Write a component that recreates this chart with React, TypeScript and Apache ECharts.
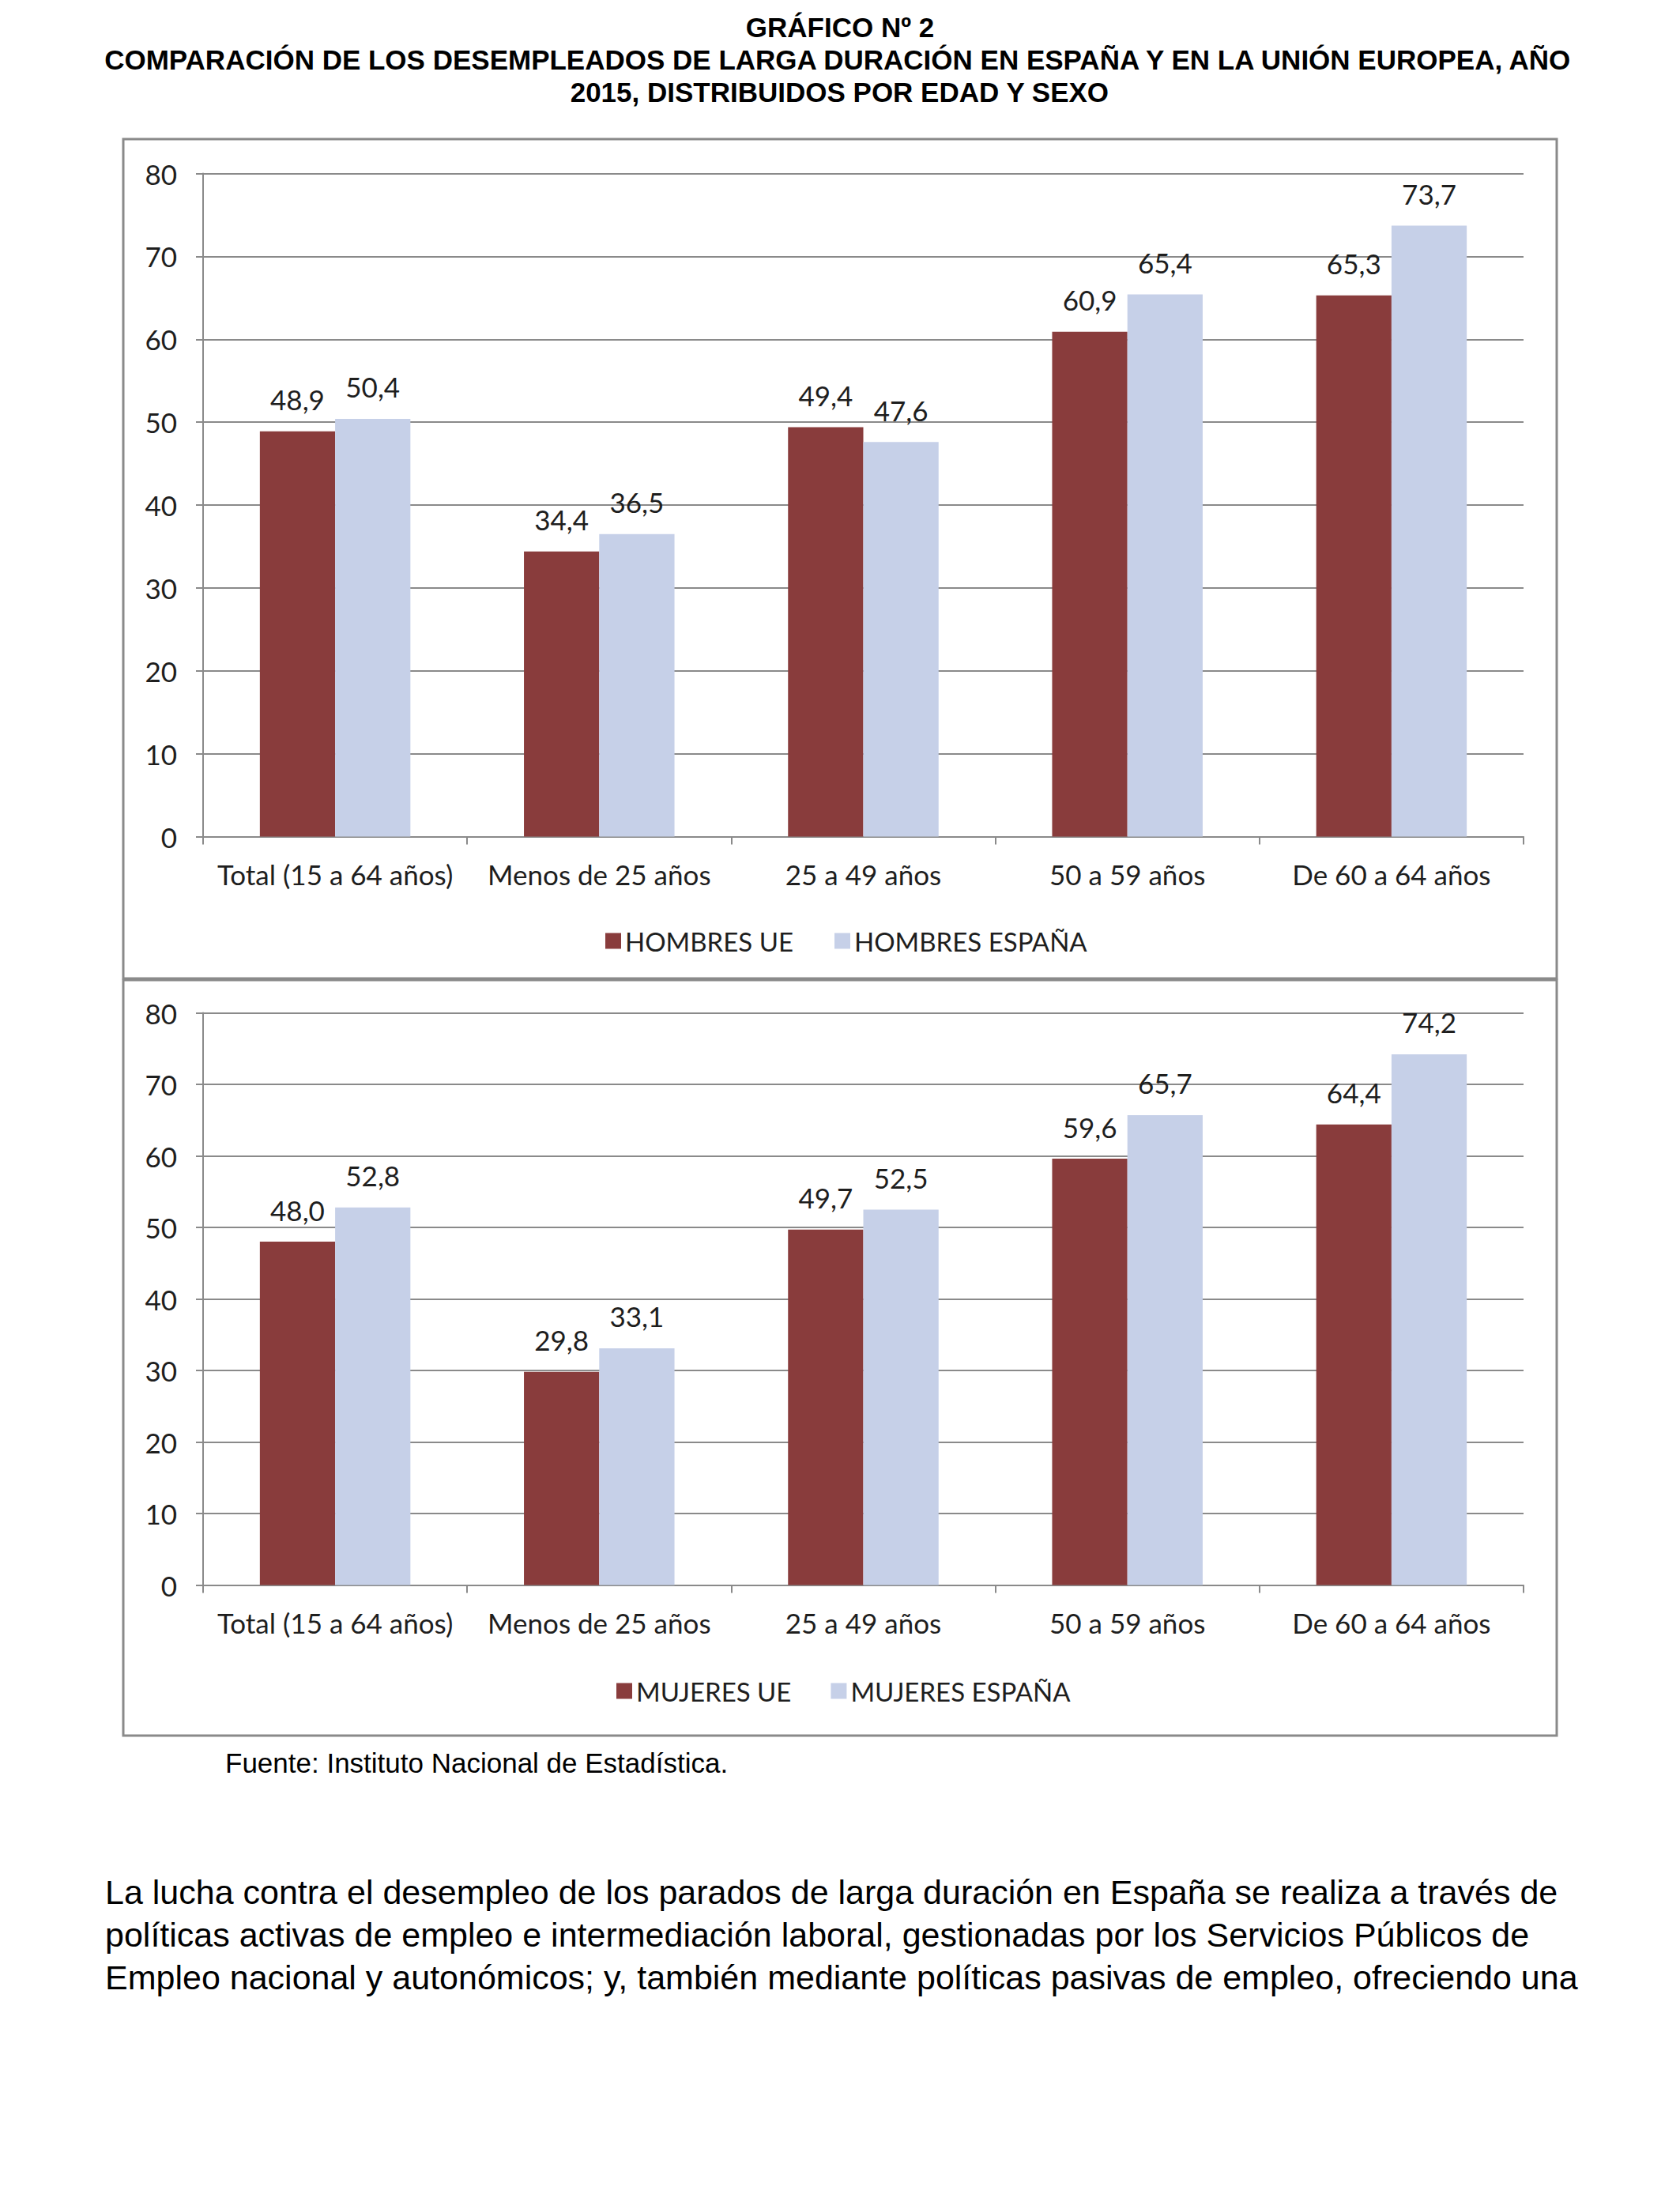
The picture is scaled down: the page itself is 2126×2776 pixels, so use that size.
import React, { useEffect, useRef } from "react";
import * as echarts from "echarts";

const categories = [
  "Total (15 a 64 años)",
  "Menos de 25 años",
  "25 a 49 años",
  "50 a 59 años",
  "De 60 a 64 años",
];
const hombresUE = [48.9, 34.4, 49.4, 60.9, 65.3];
const hombresEspana = [50.4, 36.5, 47.6, 65.4, 73.7];
const mujeresUE = [48.0, 29.8, 49.7, 59.6, 64.4];
const mujeresEspana = [52.8, 33.1, 52.5, 65.7, 74.2];

const titleLines = [
  "GRÁFICO Nº 2",
  "COMPARACIÓN DE LOS DESEMPLEADOS DE LARGA DURACIÓN EN ESPAÑA Y EN LA UNIÓN EUROPEA, AÑO",
  "2015, DISTRIBUIDOS POR EDAD Y SEXO",
];
const sourceText = "Fuente: Instituto Nacional de Estadística.";
const paragraphLines = [
  "La lucha contra el desempleo de los parados de larga duración en España se realiza a través de",
  "políticas activas de empleo e intermediación laboral, gestionadas por los Servicios Públicos de",
  "Empleo nacional y autonómicos; y, también mediante políticas pasivas de empleo, ofreciendo una",
];

const RED = "#893c3c";
const BLUE = "#c6d0e8";
const GRID = "#8a8a8a";
const TXT = "#1e1e1e";
const CFONT = "Lato";
const CSIZE = 35;

const fmt = (p: any) => Number(p.value).toFixed(1).replace(".", ",");

export default function App() {
  const ref = useRef<HTMLDivElement>(null);
  useEffect(() => {
    if (!ref.current) return;
    const chart = echarts.init(ref.current, undefined, { renderer: "svg" });

    const xAxisCommon = (gridIndex: number) => ({
      type: "category",
      gridIndex,
      data: categories,
      axisLine: { lineStyle: { color: GRID, width: 2 } },
      axisTick: { show: true, alignWithLabel: false, length: 10, lineStyle: { color: GRID, width: 2 } },
      axisLabel: { color: TXT, fontFamily: CFONT, fontSize: CSIZE, margin: 30, interval: 0 },
    });
    const yAxisCommon = (gridIndex: number) => ({
      type: "value",
      gridIndex,
      min: 0,
      max: 80,
      interval: 10,
      axisLine: { show: true, lineStyle: { color: GRID, width: 2 } },
      axisTick: { show: true, length: 9, lineStyle: { color: GRID, width: 2 } },
      splitLine: { show: true, lineStyle: { color: GRID, width: 2 } },
      axisLabel: { color: TXT, fontFamily: CFONT, fontSize: CSIZE, margin: 33 },
    });
    const barSeries = (name: string, data: number[], color: string, idx: number) => ({
      name,
      type: "bar",
      xAxisIndex: idx,
      yAxisIndex: idx,
      data,
      barGap: "0%",
      barCategoryGap: "43%",
      itemStyle: { color },
      label: {
        show: true,
        position: "top",
        distance: 23,
        formatter: fmt,
        color: TXT,
        fontFamily: CFONT,
        fontSize: CSIZE,
      },
    });

    const legendCommon = {
      itemWidth: 20,
      itemHeight: 20,
      icon: "rect",
      textStyle: { color: TXT, fontFamily: CFONT, fontSize: 33, padding: [0, 0, 0, 0] },
    };

    const graphics: any[] = [];
    titleLines.forEach((t, i) => {
      graphics.push({
        type: "text",
        left: "center",
        top: 17 + i * 41,
        style: {
          text: t,
          fill: "#000",
          font: "bold 35px 'Liberation Sans', Arial, sans-serif",
        },
      });
    });
    graphics.push({
      type: "rect",
      shape: { x: 156, y: 176, width: 1814, height: 1062 },
      style: { fill: "none", stroke: GRID, lineWidth: 3 },
      z: 1,
    });
    graphics.push({
      type: "rect",
      shape: { x: 156, y: 1240, width: 1814, height: 956 },
      style: { fill: "none", stroke: GRID, lineWidth: 3 },
      z: 1,
    });
    graphics.push({
      type: "text",
      left: 285,
      top: 2213,
      style: { text: sourceText, fill: "#000", font: "35px 'Liberation Sans', Arial, sans-serif" },
    });
    paragraphLines.forEach((t, i) => {
      graphics.push({
        type: "text",
        left: 133,
        top: 2372 + i * 54,
        style: { text: t, fill: "#000", font: "43px 'Liberation Sans', Arial, sans-serif" },
      });
    });

    chart.setOption({
      animation: false,
      backgroundColor: "#ffffff",
      grid: [
        { left: 257, top: 219.5, width: 1671, height: 839, containLabel: false },
        { left: 257, top: 1281.5, width: 1671, height: 724, containLabel: false },
      ],
      xAxis: [xAxisCommon(0), xAxisCommon(1)],
      yAxis: [yAxisCommon(0), yAxisCommon(1)],
      legend: [
        { ...legendCommon, itemGap: 52, left: 761, top: 1169, data: ["HOMBRES UE", "HOMBRES ESPAÑA"] },
        { ...legendCommon, itemGap: 50, left: 775, top: 2118, data: ["MUJERES UE", "MUJERES ESPAÑA"] },
      ],
      series: [
        barSeries("HOMBRES UE", hombresUE, RED, 0),
        barSeries("HOMBRES ESPAÑA", hombresEspana, BLUE, 0),
        barSeries("MUJERES UE", mujeresUE, RED, 1),
        barSeries("MUJERES ESPAÑA", mujeresEspana, BLUE, 1),
      ],
      graphic: graphics,
    });
    return () => chart.dispose();
  }, []);
  return (
    <div
      ref={ref}
      style={{ position: "absolute", left: 0, top: 0, width: 2126, height: 2776, background: "#fff" }}
    />
  );
}
